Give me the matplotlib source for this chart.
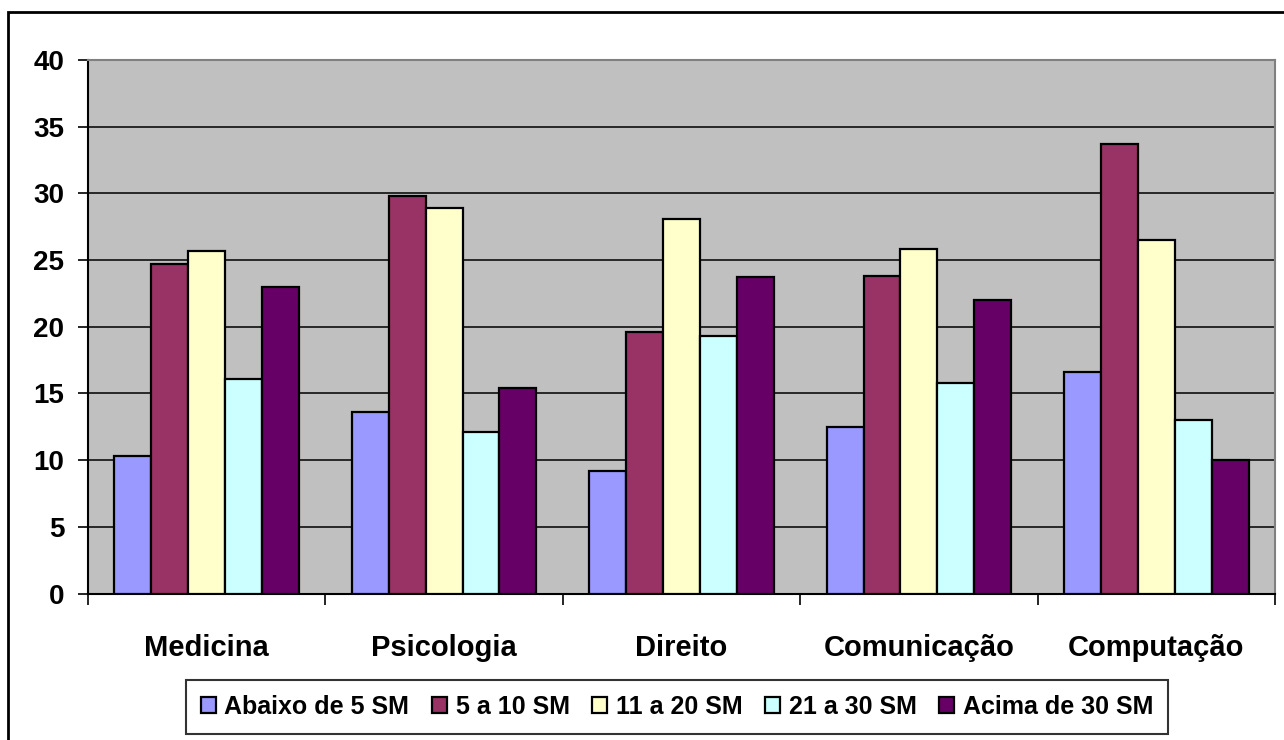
import matplotlib.pyplot as plt
import matplotlib.patches as mpatches
import numpy as np

plt.rcParams['font.family'] = ['Liberation Sans', 'DejaVu Sans']
plt.rcParams['font.weight'] = 'bold'

cursos = ['Medicina', 'Psicologia', 'Direito', 'Comunicação', 'Computação']
faixas = ['Abaixo de 5 SM', '5 a 10 SM', '11 a 20 SM', '21 a 30 SM', 'Acima de 30 SM']
valores = [
    [10.3, 13.6, 9.2, 12.5, 16.6],   # Abaixo de 5 SM
    [24.7, 29.8, 19.6, 23.8, 33.7],  # 5 a 10 SM
    [25.7, 28.9, 28.1, 25.8, 26.5],  # 11 a 20 SM
    [16.1, 12.1, 19.3, 15.8, 13.0],  # 21 a 30 SM
    [23.0, 15.4, 23.7, 22.0, 10.0],  # Acima de 30 SM
]
cores = ['#9999FF', '#993366', '#FFFFCC', '#CCFFFF', '#660066']

fig = plt.figure(figsize=(12.84, 7.40), dpi=100)
ax = fig.add_axes([88/1284, 1-593.5/740, (1275-88)/1284, (593.5-60)/740])
ax.set_facecolor('#C0C0C0')

x = np.arange(len(cursos))
w = 0.1555
for i, (nome, vals, c) in enumerate(zip(faixas, valores, cores)):
    ax.bar(x + (i - 2) * w, vals, w, color=c, edgecolor='black', linewidth=1.6,
           label=nome, zorder=3)

ax.set_ylim(0, 40)
ax.set_xlim(-0.5, len(cursos) - 0.5)
ax.set_yticks(range(0, 41, 5))
ax.yaxis.grid(True, color='black', linewidth=1.1, zorder=1)
ax.set_axisbelow(True)
ax.tick_params(axis='y', direction='out', length=7, width=1.2, pad=10, labelsize=20)

ax.set_xticks(np.arange(-0.5, len(cursos), 1.0))
ax.set_xticklabels([])
ax.set_xticks(x, minor=True)
ax.set_xticklabels(cursos, minor=True, fontsize=21)
ax.tick_params(axis='x', which='major', direction='out', length=8, width=1.2)
ax.tick_params(axis='x', which='minor', length=0, pad=29)

for s in ['top', 'right']:
    ax.spines[s].set_color('#808080')
    ax.spines[s].set_linewidth(1.5)
for s in ['left', 'bottom']:
    ax.spines[s].set_color('black')
    ax.spines[s].set_linewidth(1.5)

leg = fig.legend(loc='center', bbox_to_anchor=(677/1284, 1-707/740), ncol=5,
                 fontsize=18, frameon=True, fancybox=False, edgecolor='black',
                 handlelength=0.6, handleheight=0.6, handletextpad=0.35,
                 columnspacing=0.9, borderpad=0.6, borderaxespad=0)
leg.get_frame().set_linewidth(1.5)

fig.patches.append(mpatches.Rectangle((8/1284, -0.1), 1.2, 1.1 - 12/740,
                                      transform=fig.transFigure, fill=False,
                                      edgecolor='black', linewidth=2))

fig.savefig('out.png', dpi=100)
